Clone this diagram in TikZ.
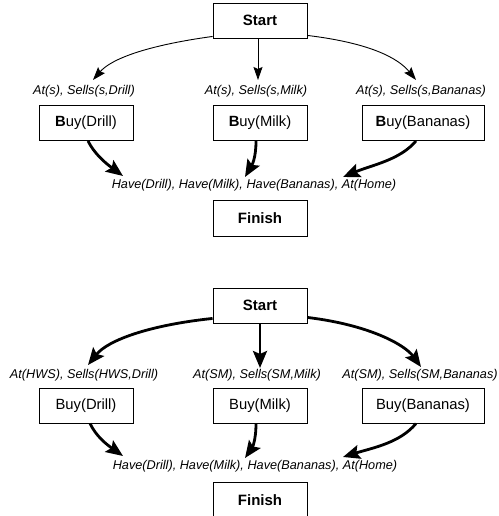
\documentclass[tikz,border=0pt]{standalone}
\usepackage{fontspec}
\setmainfont{Liberation Sans}
\usetikzlibrary{arrows.meta}
\begin{document}
\begin{tikzpicture}[x=1pt,y=-1pt,
  box/.style={draw,line width=0.9pt,inner sep=0pt,minimum height=35pt,font=\fontsize{14.8}{16}\selectfont},
  lbl/.style={inner sep=0pt,font=\fontsize{12.7}{14}\selectfont\itshape},
  thinarr/.style={line width=0.9pt,-{Stealth[length=13pt,width=9pt,inset=2pt]}},
  boldarr/.style={line width=2.8pt,-{Stealth[length=17pt,width=14pt,inset=3pt]}}]
\useasboundingbox (0,0) rectangle (498,516);
\begin{scope}
\clip (0,0) rectangle (498,516);
% ---------- top diagram ----------
\node[box,minimum width=94pt,font=\fontsize{15}{16}\selectfont\bfseries] (s1) at (260,20.5) {Start};
\node[lbl] (l1a) at (84,91) {At(s), Sells(s,Drill)};
\node[lbl] (l1b) at (256,91) {At(s), Sells(s,Milk)};
\node[lbl] (l1c) at (421,91) {At(s), Sells(s,Bananas)};
\node[box,minimum width=94pt] (b1a) at (86,123) {\textbf{B}uy(Drill)};
\node[box,minimum width=94pt] (b1b) at (260,123) {\textbf{B}uy(Milk)};
\node[box,minimum width=122pt] (b1c) at (423,123) {\textbf{B}uy(Bananas)};
\node[lbl] (h1) at (254,185) {Have(Drill), Have(Milk), Have(Bananas), At(Home)};
\node[box,minimum width=94pt,minimum height=36pt,font=\fontsize{15}{16}\selectfont\bfseries] (f1) at (260,218) {Finish};
\coordinate (t1a) at (93,80);
\coordinate (t1b) at (258,80);
\coordinate (t1c) at (416,80);
\coordinate (h1a) at (123,176);
\coordinate (h1b) at (245,177);
\coordinate (h1c) at (343,177);
\draw[thinarr] ([yshift=2pt]s1.south west) .. controls (150,45) and (112,58) .. (t1a);
\draw[thinarr] (s1.south -| t1b) -- (t1b);
\draw[thinarr] ([yshift=3pt]s1.south east) .. controls (370,43) and (398,58) .. (t1c);
\draw[boldarr] (b1a.south -| 88,0) .. controls (94,153) and (104,162) .. (h1a);
\draw[boldarr] (b1b.south -| 256,0) .. controls (256,158) and (252,165) .. (h1b);
\draw[boldarr] (b1c.south -| 416,0) .. controls (400,160) and (372,165) .. (h1c);
% ---------- bottom diagram ----------
\node[box,minimum width=94pt,font=\fontsize{15}{16}\selectfont\bfseries] (s2) at (260,305.5) {Start};
\node[lbl] (l2a) at (84,375) {At(HWS), Sells(HWS,Drill)};
\node[lbl] (l2b) at (257,375) {At(SM), Sells(SM,Milk)};
\node[lbl] (l2c) at (420,375) {At(SM), Sells(SM,Bananas)};
\node[box,minimum width=94pt] (b2a) at (86,405.5) {Buy(Drill)};
\node[box,minimum width=94pt] (b2b) at (260,405.5) {Buy(Milk)};
\node[box,minimum width=122pt] (b2c) at (423,405.5) {Buy(Bananas)};
\node[lbl] (h2) at (255,466) {Have(Drill), Have(Milk), Have(Bananas), At(Home)};
\node[box,minimum width=94pt,minimum height=36pt,font=\fontsize{15}{16}\selectfont\bfseries] (f2) at (260,500) {Finish};
\coordinate (t2a) at (88,365);
\coordinate (t2b) at (260,368);
\coordinate (t2c) at (421,367);
\coordinate (h2a) at (123,456);
\coordinate (h2b) at (245,458);
\coordinate (h2c) at (343,457);
\draw[boldarr] ([yshift=5pt]s2.south west) .. controls (150,325) and (108,340) .. (t2a);
\draw[boldarr] (s2.south -| t2b) -- (t2b);
\draw[boldarr] ([yshift=6pt]s2.south east) .. controls (370,325) and (405,345) .. (t2c);
\draw[boldarr] (b2a.south -| 90,0) .. controls (96,436) and (106,444) .. (h2a);
\draw[boldarr] (b2b.south -| 256,0) .. controls (256,441) and (252,448) .. (h2b);
\draw[boldarr] (b2c.south -| 416,0) .. controls (400,443) and (372,448) .. (h2c);
\end{scope}
\end{tikzpicture}
\end{document}
